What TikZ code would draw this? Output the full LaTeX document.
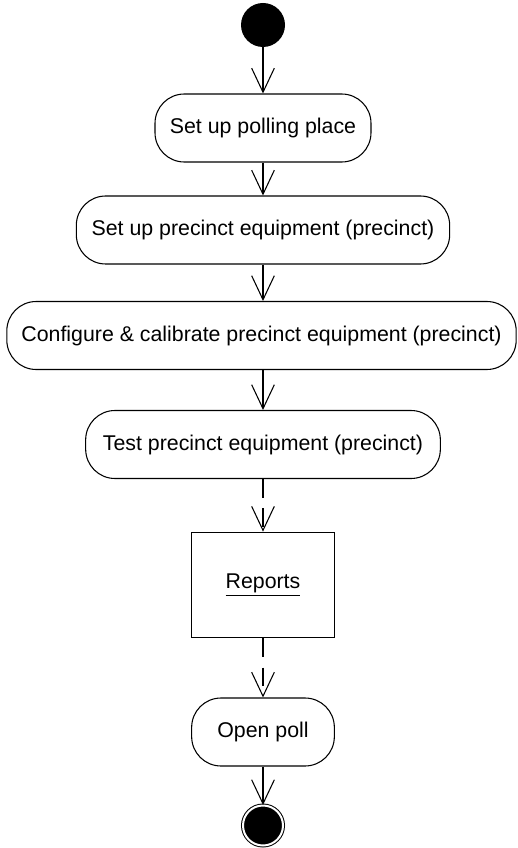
\documentclass[tikz,border=0pt]{standalone}
\usepackage{fontspec}
\setmainfont{Liberation Sans}
\usetikzlibrary{arrows.meta}
\begin{document}
\begin{tikzpicture}[x=0.75pt,y=-0.75pt,
 every node/.style={font=\fontsize{16}{19}\selectfont,inner sep=0pt},
 act/.style={draw,line width=0.8pt,rounded corners=22pt,minimum height=51pt},
 objbox/.style={draw,line width=1.1pt,minimum width=107pt,minimum height=79pt},
 flow/.style={line width=0.8pt,-{Straight Barb[length=18pt,width=17pt,line width=0.8pt]}},
 objflow/.style={flow,dash pattern=on 14pt off 8pt}]
 \useasboundingbox (0,0) rectangle (517,848);
 \node[circle,fill=black,minimum size=33pt] (start) at (263,25) {};
 \node[act,minimum width=162pt] (place) at (263,128) {Set up polling place};
 \node[act,minimum width=280pt] (setup) at (263,230) {Set up precinct equipment (precinct)};
 \node[act,minimum width=382pt] (config) at (261.5,335.5) {Configure \& calibrate precinct equipment (precinct)};
 \node[act,minimum width=266pt] (test) at (263,444.5) {Test precinct equipment (precinct)};
 \node[objbox] (reports) at (263,585) {\underline{Reports}};
 \node[act,minimum width=107pt] (open) at (263,732) {Open poll};
 \node[circle,fill=black,draw=black,double=white,double distance=1.5pt,line width=0.75pt,minimum size=30pt] (stop) at (263,825.5) {};
 \draw[flow] (start) -- (place);
 \draw[flow] (place) -- (setup);
 \draw[flow] (setup) -- (setup |- config.north);
 \draw[flow] (config.south -| test) -- (test);
 \draw[objflow] (test) -- (reports);
 \draw[objflow] (reports) -- (open);
 \draw[flow] (open) -- (stop);
\end{tikzpicture}
\end{document}
